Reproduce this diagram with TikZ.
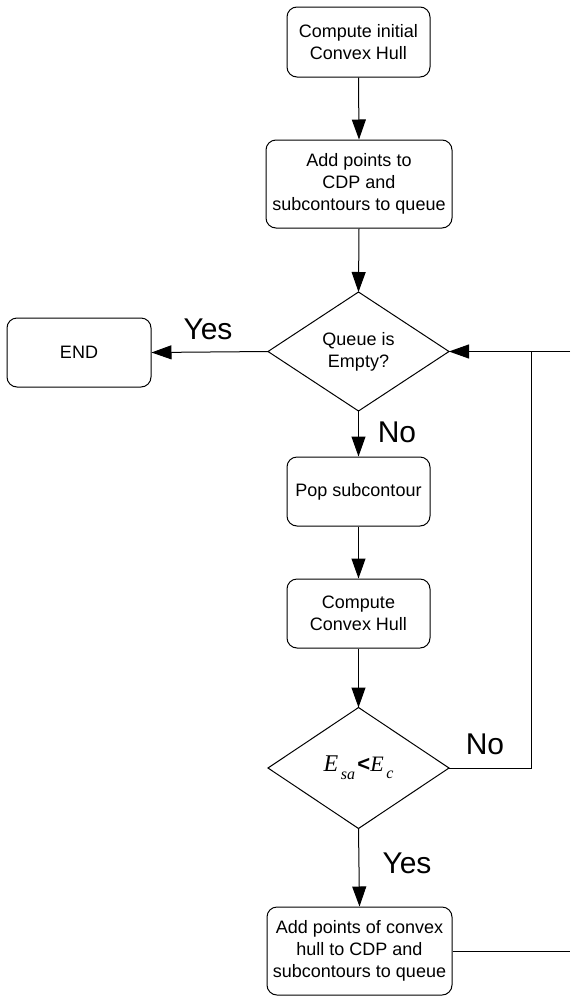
\documentclass[tikz,border=0pt]{standalone}
\usepackage{fontspec}
\setmainfont{Liberation Sans}
\newfontfamily\tnr{Liberation Serif}
\usetikzlibrary{shapes.geometric,arrows.meta}
\begin{document}
\begin{tikzpicture}[x=0.5pt,y=-0.5pt,
  every node/.style={font=\fontsize{9pt}{10.9pt}\selectfont, align=center, inner sep=0pt},
  procbox/.style={draw, line width=0.5pt, rounded corners=5pt},
  flow/.style={line width=0.5pt, -{Triangle[length=10pt,width=7pt]}},
  plain/.style={line width=0.5pt},
  branch/.style={font=\fontsize{15pt}{17pt}\selectfont}]
\useasboundingbox (0,0) rectangle (570,996);

% process boxes
\node[procbox, minimum width=143*0.5pt, minimum height=70*0.5pt] (init) at (358.5,42) {Compute initial\\Convex Hull};
\node[procbox, minimum width=186*0.5pt, minimum height=88*0.5pt] (add) at (359,184) {Add points to\\CDP and\\subcontours to queue};
\node[procbox, minimum width=144*0.5pt, minimum height=69*0.5pt] (end) at (79,352.5) {END};
\node[procbox, minimum width=143*0.5pt, minimum height=69*0.5pt] (pop) at (358.5,491.5) {Pop subcontour};
\node[procbox, minimum width=143*0.5pt, minimum height=69*0.5pt] (hull) at (358.5,613.5) {Compute\\Convex Hull};
\node[procbox, minimum width=185*0.5pt, minimum height=88*0.5pt] (addh) at (359.5,951) {Add points of convex\\hull to CDP and\\subcontours to queue};

% decisions (explicit corner points)
\coordinate (q) at (358.5,351.5);
\draw[plain] (268,351.5) -- (358.5,292) -- (449,351.5) -- (358.5,411) -- cycle;
\node (qtext) at (q) {Queue is\\Empty?};
\coordinate (qW) at (268,351.5);
\coordinate (qE) at (449,351.5);
\coordinate (qN) at (358.5,292);
\coordinate (qS) at (358.5,411);

\coordinate (e) at (358.5,768);
\draw[plain] (268,768) -- (358.5,707.5) -- (449,768) -- (358.5,828.5) -- cycle;
\node (etext) at (e) {\fontsize{12pt}{14pt}\selectfont\tnr\itshape E\raisebox{-0.7ex}{\fontsize{8pt}{9pt}\selectfont\,sa}\hspace{0.1em}\upshape\normalfont\fontsize{11pt}{13pt}\selectfont\textbf{<}\tnr\itshape E\raisebox{-0.7ex}{\fontsize{8pt}{9pt}\selectfont\,c}};
\coordinate (eE) at (449,768);
\coordinate (eN) at (358.5,707.5);
\coordinate (eS) at (358.5,828.5);

% loop-back route on the right
\coordinate (rjoin) at (531,351.5);
\coordinate (rtop) at (570,351.5);
\coordinate (rbend) at (531,768);
\coordinate (rbot) at (570,951);

% connectors
\draw[flow] (init.south) -- (add.north);
\draw[flow] (add.south) -- (qN);
\draw[flow] (qW) -- (end.east);
\draw[flow] (qS) -- (pop.north);
\draw[flow] (pop.south) -- (hull.north);
\draw[flow] (hull.south) -- (eN);
\draw[flow] (eS) -- (addh.north);
\draw[flow] (rtop) -- (qE);
\draw[plain] (eE) -- (rbend) -- (rjoin);
\draw[plain] (addh.east) -- (rbot);

% branch labels
\node[branch] (yes1) at (208,329) {Yes};
\node[branch] (no1) at (397,432) {No};
\node[branch] (no2) at (485,744) {No};
\node[branch] (yes2) at (407,863) {Yes};
\end{tikzpicture}
\end{document}
